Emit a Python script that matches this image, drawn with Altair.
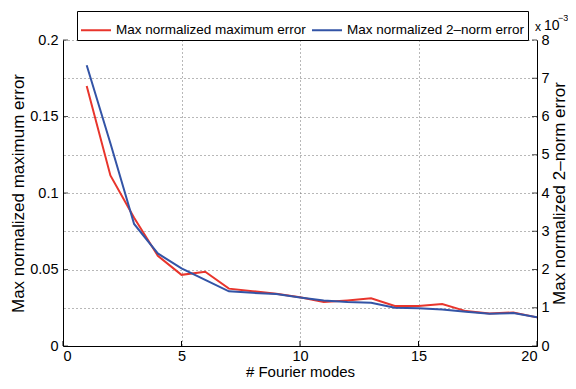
import altair as alt
import pandas as pd

# ---- data ----
modes = list(range(1, 21))
max_err = [0.170, 0.1115, 0.0838, 0.059, 0.0465, 0.0485, 0.0375, 0.0358, 0.0342, 0.0318,
           0.0287, 0.0298, 0.0312, 0.0261, 0.0261, 0.0275, 0.0228, 0.0213, 0.0219, 0.0187]
norm2_err = [7.34, 5.30, 3.19, 2.42, 2.03, 1.73, 1.43, 1.39, 1.36, 1.27,
             1.19, 1.15, 1.13, 1.00, 0.99, 0.955, 0.895, 0.84, 0.86, 0.75]  # x 1e-3
series_names = ["Max normalized maximum error", "Max normalized 2\u2013norm error"]
series_colors = ["#e8352c", "#3354a6"]
x_ticks = [0, 5, 10, 15, 20]
left_ticks = [0, 0.05, 0.1, 0.15, 0.2]
right_ticks = [0, 1, 2, 3, 4, 5, 6, 7, 8]
exp_base = ["x"]
exp_ten = ["10"]
exp_power = ["\u22123"]

FONT = "Liberation Sans"
W, H = 474, 306

df_red = pd.DataFrame({"mode": modes, "value": max_err, "series": series_names[0]})
df_blue = pd.DataFrame({"mode": modes, "value": norm2_err, "series": series_names[1]})
df_lt = pd.DataFrame({"mode": x_ticks[:1] * len(left_ticks), "value": left_ticks})
df_rt = pd.DataFrame({"mode": x_ticks[-1:] * len(right_ticks), "value": right_ticks})
df_bt = pd.DataFrame({"mode": x_ticks})

x_scale = alt.Scale(domain=[0, 20], nice=False)
left_scale = alt.Scale(domain=[0, 0.2], nice=False)
right_scale = alt.Scale(domain=[0, 8], nice=False)
color_scale = alt.Scale(domain=series_names, range=series_colors)

GRID = dict(gridColor="#707070", gridDash=[1, 3], gridWidth=1, gridOpacity=1)

x_axis = alt.Axis(
    values=x_ticks, title="# Fourier modes", grid=True, ticks=False,
    labelPadding=3, labelFontSize=14.5, titleX=W / 2, titleY=30,
    titleBaseline="alphabetic", titleAlign="center", titleFontSize=15, **GRID)
left_axis = alt.Axis(
    orient="left", values=left_ticks, format="~g", grid=False, ticks=False,
    labelPadding=5, labelFontSize=14.5, title=series_names[0],
    titleX=-45, titleY=H / 2, titleAngle=270, titleAlign="center",
    titleBaseline="middle", titleFontSize=17)
right_axis = alt.Axis(
    orient="right", values=right_ticks, format="d", grid=True, ticks=False,
    labelPadding=4, labelFontSize=14.5, title=series_names[1],
    titleX=22, titleY=H / 2, titleAngle=270, titleAlign="center",
    titleBaseline="middle", titleFontSize=17, **GRID)

legend = alt.Legend(
    orient="none", legendX=14, legendY=-29, direction="horizontal",
    symbolType="stroke", symbolSize=900, symbolStrokeWidth=2,
    labelFont=FONT, labelFontSize=13.5, labelColor="black", labelOffset=4,
    labelLimit=500, columnPadding=2, padding=3,
    strokeColor="black", fillColor="white", cornerRadius=0,
)

X = alt.X("mode:Q", scale=x_scale, axis=x_axis)
YL = alt.Y("value:Q", scale=left_scale, axis=left_axis)
YR = alt.Y("value:Q", scale=right_scale, axis=right_axis)
C = alt.Color("series:N", scale=color_scale, legend=legend, title=None)

red = alt.Chart(df_red).mark_line(strokeWidth=2).encode(x=X, y=YL, color=C)

left_tick_marks = alt.Chart(df_lt).mark_tick(
    color="black", thickness=1, size=5, orient="horizontal", xOffset=2.5).encode(x=X, y=YL)

bottom_tick_marks = alt.Chart(df_bt).mark_rule(color="black", strokeWidth=1).encode(
    x=X, y=alt.value(H), y2=alt.value(H - 5))

left_group = alt.layer(red, left_tick_marks, bottom_tick_marks)

blue = alt.Chart(df_blue).mark_line(strokeWidth=2).encode(x=X, y=YR, color=C)

right_tick_marks = alt.Chart(df_rt).mark_tick(
    color="black", thickness=1, size=5, orient="horizontal", xOffset=-2.5).encode(x=X, y=YR)

txt_x = alt.Chart(pd.DataFrame({"t": exp_base})).mark_text(
    font=FONT, fontSize=12, align="left", baseline="alphabetic", color="black").encode(
    text="t:N", x=alt.value(W - 2), y=alt.value(-9))
txt_10 = alt.Chart(pd.DataFrame({"t": exp_ten})).mark_text(
    font=FONT, fontSize=14, align="left", baseline="alphabetic", color="black").encode(
    text="t:N", x=alt.value(W + 7), y=alt.value(-10))
txt_pow = alt.Chart(pd.DataFrame({"t": exp_power})).mark_text(
    font=FONT, fontSize=9, align="left", baseline="alphabetic", color="black").encode(
    text="t:N", x=alt.value(W + 21), y=alt.value(-19))

right_group = alt.layer(blue, right_tick_marks, txt_x, txt_10, txt_pow)

chart = alt.layer(left_group, right_group).resolve_scale(y="independent").properties(
    width=W, height=H,
    autosize=alt.AutoSizeParams(type="none"),
    padding={"left": 55, "top": 32, "right": 31, "bottom": 35},
    background="white",
).configure_view(stroke=None).configure_axis(
    labelFont=FONT, titleFont=FONT, labelColor="black", titleColor="black",
    domainColor="black", domainWidth=1, titleFontWeight="normal",
)

chart.save("out.html", embed_options={"renderer": "svg", "actions": False})
